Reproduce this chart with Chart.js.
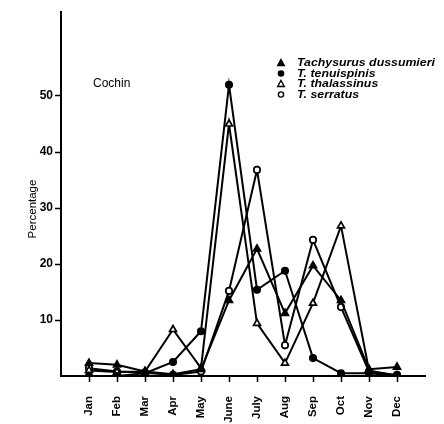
<!DOCTYPE html>
<html>
<head>
<meta charset="utf-8">
<script src="https://cdn.jsdelivr.net/npm/chart.js@4/dist/chart.umd.min.js"></script>
<style>
  html, body { margin: 0; padding: 0; background: #fff; }
  #wrap { width: 444px; height: 424px; }
</style>
</head>
<body>
<div id="wrap"><canvas id="fishChart" width="444" height="424"></canvas></div>
<script>
// === data ===
const months = ['Jan', 'Feb', 'Mar', 'Apr', 'May', 'June', 'July', 'Aug', 'Sep', 'Oct', 'Nov', 'Dec'];
const yTicks = [10, 20, 30, 40, 50];

const dussumieri  = [2.3, 2.0, 0.8, 0.3, 1.2, 13.5, 22.7, 11.2, 19.7, 13.5, 1.2, 1.6];
const tenuispinis = [0, 0, 0.5, 2.5, 8.0, 52, 15.4, 18.8, 3.2, 0.5, 0.5, 0];
const thalassinus = [1.0, 0.7, 0.8, 8.3, 1.4, 45, 9.4, 2.3, 13, 26.8, 1.0, 0];
const serratus    = [1.4, 0.8, 0.6, 0.2, 0.8, 15.2, 36.8, 5.5, 24.3, 12.3, 0.8, 0.2];

const seriesNames = ['Tachysurus dussumieri', 'T. tenuispinis', 'T. thalassinus', 'T. serratus'];

const FONT = '"Liberation Sans", Arial, sans-serif';

// month index -> x position 1..12 on a 0..13 linear axis
function toPoints(arr) {
    return arr.map((v, i) => ({ x: i + 1, y: v }));
}

function makeSet(label, arr, style, filled) {
    return {
        label: label,
        data: toPoints(arr),
        borderColor: '#000',
        borderWidth: 2,
        tension: 0,
        fill: false,
        pointStyle: style,
        pointRadius: style === 'triangle' ? 4 : 3.2,
        pointBorderWidth: 1.7,
        pointBorderColor: '#000',
        pointBackgroundColor: filled ? '#000' : '#fff'
    };
}

// legend + "Cochin" + y title, drawn by hand
const annotations = {
    id: 'annotations',
    afterDraw(chart) {
        const ctx = chart.ctx;
        ctx.save();
        ctx.fillStyle = '#000';
        ctx.strokeStyle = '#000';

        ctx.font = '12px ' + FONT;
        ctx.textBaseline = 'middle';
        ctx.textAlign = 'left';
        ctx.fillText('Cochin', 93, 84);

        // y axis title
        ctx.save();
        ctx.translate(33, 209);
        ctx.rotate(-Math.PI / 2);
        ctx.textAlign = 'center';
        ctx.font = '11.5px ' + FONT;
        ctx.fillText('Percentage', 0, 0);
        ctx.restore();

        // legend
        const rowY = [63, 73.5, 84, 94.5];
        ctx.font = 'italic bold 11px ' + FONT;
        chart.data.datasets.forEach((ds, i) => {
            const y = rowY[i];
            const x = 281;
            ctx.lineWidth = 1.4;
            ctx.fillStyle = ds.pointBackgroundColor;
            ctx.beginPath();
            if (ds.pointStyle === 'triangle') {
                ctx.moveTo(x, y - 3.5);
                ctx.lineTo(x + 3.3, y + 2.5);
                ctx.lineTo(x - 3.3, y + 2.5);
                ctx.closePath();
            } else {
                ctx.arc(x, y, 2.6, 0, Math.PI * 2);
            }
            ctx.fill();
            ctx.stroke();
            ctx.fillStyle = '#000';
            ctx.save();
            ctx.translate(297, y);
            ctx.scale(1.12, 1);
            ctx.fillText(seriesNames[i], 0, 0);
            ctx.restore();
        });
        ctx.restore();
    }
};

const chart = new Chart(document.getElementById('fishChart'), {
    type: 'line',
    data: {
        datasets: [
            makeSet(seriesNames[0], dussumieri, 'triangle', true),
            makeSet(seriesNames[1], tenuispinis, 'circle', true),
            makeSet(seriesNames[2], thalassinus, 'triangle', false),
            makeSet(seriesNames[3], serratus, 'circle', false)
        ]
    },
    options: {
        responsive: false,
        animation: false,
        layout: { padding: { top: 12, right: 19, left: 0, bottom: 0 } },
        plugins: {
            legend: { display: false },
            tooltip: { enabled: false }
        },
        scales: {
            x: {
                type: 'linear',
                min: 0,
                max: 13,
                afterBuildTicks(scale) {
                    scale.ticks = months.map((m, i) => ({ value: i + 1 }));
                },
                afterFit(scale) { scale.height = 48; },
                border: { display: true, color: '#000', width: 2 },
                grid: { drawOnChartArea: false, color: '#000', tickLength: 6, tickWidth: 1.5 },
                ticks: {
                    color: '#000',
                    font: { family: FONT, size: 11.5, weight: 'bold' },
                    padding: 14,
                    minRotation: 90,
                    maxRotation: 90,
                    autoSkip: false,
                    callback: (v) => months[v - 1] || ''
                }
            },
            y: {
                min: 0,
                max: 65,
                afterBuildTicks(scale) {
                    scale.ticks = yTicks.map(v => ({ value: v }));
                },
                afterFit(scale) { scale.width = 61; },
                border: { display: true, color: '#000', width: 2 },
                grid: { drawOnChartArea: false, color: '#000', tickLength: 6, tickWidth: 1.5 },
                ticks: {
                    color: '#000',
                    font: { family: FONT, size: 12, weight: 'bold' },
                    padding: 2
                }
            }
        }
    },
    plugins: [annotations]
});
</script>
</body>
</html>
